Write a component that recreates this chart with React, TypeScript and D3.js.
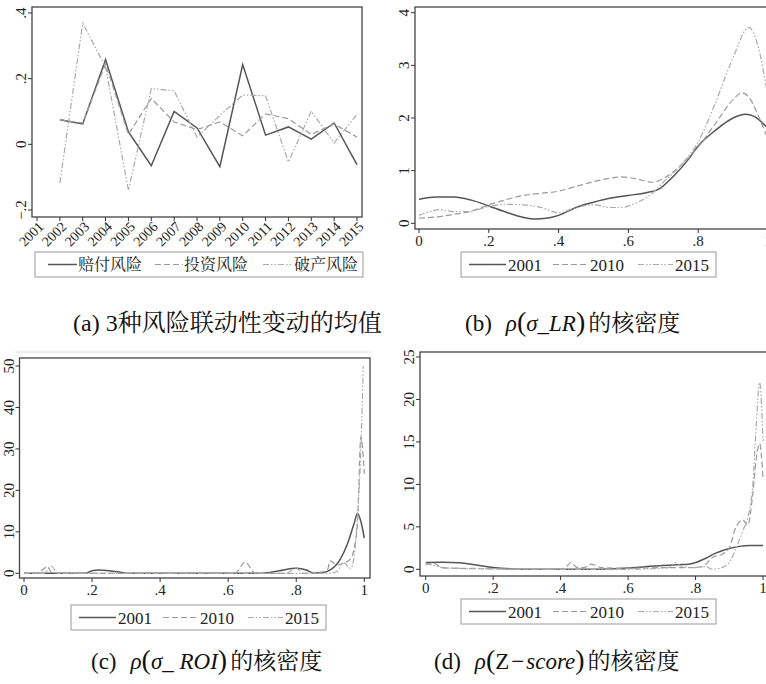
import { useRef, useEffect } from "react"
import * as d3 from "d3"

// panel (a): mean co-movement of the three risks
const years = [2001, 2002, 2003, 2004, 2005, 2006, 2007, 2008, 2009, 2010, 2011, 2012, 2013, 2014, 2015]
const dataYears = [2002, 2003, 2004, 2005, 2006, 2007, 2008, 2009, 2010, 2011, 2012, 2013, 2014, 2015]
const claimRisk = [0.075, 0.062, 0.258, 0.038, -0.065, 0.1, 0.05, -0.068, 0.243, 0.028, 0.053, 0.016, 0.065, -0.062]
const investRisk = [0.075, 0.065, 0.245, 0.03, 0.14, 0.068, 0.045, 0.068, 0.026, 0.093, 0.078, 0.03, 0.062, 0.022]
const bankruptRisk = [-0.118, 0.369, 0.235, -0.14, 0.17, 0.163, 0.022, 0.088, 0.15, 0.148, -0.054, 0.101, 0.004, 0.091]
const riskNames = ["赔付风险", "投资风险", "破产风险"]
const riskTicks = [-0.2, 0, 0.2, 0.4]

// kernel densities, [x, density]
const densityYears = ["2001", "2010", "2015"]
const densityTicksX = [0, 0.2, 0.4, 0.6, 0.8, 1]

const lr2001 = [[0, 0.457], [0.05, 0.5], [0.1, 0.5], [0.15, 0.44], [0.2, 0.33], [0.25, 0.21], [0.3, 0.11], [0.33, 0.08], [0.37, 0.1], [0.4, 0.15], [0.45, 0.3], [0.5, 0.4], [0.55, 0.48], [0.6, 0.53], [0.65, 0.58], [0.69, 0.66], [0.73, 0.9], [0.77, 1.2], [0.8, 1.47], [0.85, 1.77], [0.9, 2.0], [0.935, 2.07], [0.96, 2.03], [1.0, 1.8]]
const lr2010 = [[0, 0.1], [0.05, 0.12], [0.1, 0.17], [0.15, 0.23], [0.2, 0.35], [0.25, 0.45], [0.3, 0.53], [0.35, 0.57], [0.4, 0.61], [0.45, 0.7], [0.5, 0.79], [0.55, 0.86], [0.58, 0.88], [0.62, 0.85], [0.67, 0.78], [0.7, 0.85], [0.75, 1.1], [0.8, 1.45], [0.85, 1.9], [0.9, 2.35], [0.925, 2.48], [0.95, 2.35], [0.975, 2.0], [1.0, 1.6]]
const lr2015 = [[0, 0.15], [0.03, 0.22], [0.06, 0.26], [0.1, 0.22], [0.14, 0.22], [0.2, 0.32], [0.25, 0.36], [0.3, 0.35], [0.35, 0.3], [0.4, 0.2], [0.45, 0.3], [0.5, 0.35], [0.55, 0.3], [0.58, 0.3], [0.62, 0.38], [0.67, 0.58], [0.7, 0.78], [0.75, 1.1], [0.8, 1.55], [0.85, 2.3], [0.9, 3.15], [0.945, 3.72], [0.97, 3.4], [1.0, 2.4]]

const roi2001 = [[0, 0], [0.18, 0], [0.2, 0.6], [0.22, 0.8], [0.25, 0.6], [0.28, 0.3], [0.3, 0], [0.7, 0], [0.75, 0.6], [0.8, 1.2], [0.83, 0.8], [0.85, 0.1], [0.88, 0.2], [0.9, 0.8], [0.93, 3.5], [0.95, 7], [0.97, 12], [0.98, 14.5], [0.99, 12.5], [1.0, 8.5]]
const roi2010 = [[0, 0], [0.04, 0], [0.06, 1.2], [0.07, 1.6], [0.08, 0.3], [0.1, 0], [0.62, 0], [0.65, 2.7], [0.68, 0], [0.77, 0], [0.8, 1.3], [0.82, 0], [0.89, 0.5], [0.9, 3], [0.92, 2.0], [0.94, 2.5], [0.96, 3.5], [0.97, 6], [0.98, 12], [0.99, 33], [1.0, 24]]
const roi2015 = [[0, 0], [0.06, 0], [0.08, 1.7], [0.1, 0], [0.9, 0], [0.92, 0.5], [0.94, 2.5], [0.96, 1.2], [0.97, 4], [0.98, 14], [0.99, 30], [0.997, 50]]

const z2001 = [[0, 0.8], [0.05, 0.82], [0.1, 0.78], [0.15, 0.5], [0.2, 0.2], [0.25, 0.05], [0.3, 0], [0.5, 0], [0.6, 0.15], [0.65, 0.3], [0.7, 0.45], [0.75, 0.55], [0.78, 0.6], [0.8, 0.8], [0.83, 1.3], [0.86, 1.9], [0.9, 2.45], [0.93, 2.7], [0.96, 2.8], [1.0, 2.8]]
const z2010 = [[0, 0.5], [0.02, 0.75], [0.05, 0.2], [0.1, 0.1], [0.2, 0.05], [0.3, 0], [0.41, 0], [0.43, 0.8], [0.45, 0.2], [0.47, 0.2], [0.49, 0.6], [0.52, 0.2], [0.6, 0.1], [0.7, 0.2], [0.78, 0.2], [0.82, 0.3], [0.85, 1.4], [0.88, 1.8], [0.9, 2.5], [0.92, 5], [0.94, 5.8], [0.955, 5.2], [0.97, 9], [0.98, 13], [0.99, 14.8], [1.0, 10.7]]
const z2015 = [[0, 0.7], [0.03, 0.4], [0.06, 0.15], [0.15, 0.1], [0.25, 0.02], [0.35, 0], [0.6, 0], [0.72, 0.2], [0.74, 0.8], [0.76, 0.3], [0.8, 0.2], [0.83, 0.3], [0.85, 0], [0.87, 0.1], [0.9, 0.8], [0.92, 2.5], [0.94, 4.5], [0.96, 7], [0.97, 10], [0.98, 17], [0.99, 22], [1.0, 15]]

const serif = "'Liberation Serif', 'Times New Roman', serif"
const cjk = "'Liberation Serif', 'Noto Serif CJK SC', 'Noto Sans CJK SC', serif"

// solid / dashed / dash-dot-dot, like the Stata defaults
const lineStyles = [
  { stroke: "#555", dash: "none", width: 1.5 },
  { stroke: "#9a9a9a", dash: "6,3", width: 1.2 },
  { stroke: "#aaa", dash: "6,2,1.5,2,1.5,2", width: 1.2 },
]

const fmtTick = (d: number) => (d === 0 ? "0" : d === 1 ? "1" : d3.format(".1f")(d).replace("0.", "."))

function drawLegend(svg: any, box: any, labels: string[], font: string, size: number) {
  const g = svg.append("g")
  g.append("rect")
    .attr("x", box.left)
    .attr("y", box.top)
    .attr("width", box.width)
    .attr("height", box.height)
    .attr("fill", "#fff")
    .attr("stroke", "#999")
  const cy = box.top + box.height / 2
  labels.forEach((label, i) => {
    const s = lineStyles[i]
    g.append("line")
      .attr("x1", box.left + box.samples[i][0])
      .attr("x2", box.left + box.samples[i][1])
      .attr("y1", cy)
      .attr("y2", cy)
      .attr("stroke", s.stroke)
      .attr("stroke-width", s.width)
      .attr("stroke-dasharray", s.dash)
    g.append("text")
      .text(label)
      .attr("x", box.left + box.textX[i])
      .attr("y", cy)
      .attr("dy", "0.36em")
      .style("font-family", font)
      .style("font-size", size + "px")
      .attr("fill", "#222")
  })
}

function drawYTicks(svg: any, y: any, ticks: number[], axisX: number, fmt: (d: number) => string) {
  const g = svg.append("g")
  g.selectAll("line")
    .data(ticks)
    .enter()
    .append("line")
    .attr("x1", axisX - 4)
    .attr("x2", axisX)
    .attr("y1", (d: number) => y(d))
    .attr("y2", (d: number) => y(d))
    .attr("stroke", "#333")
  g.selectAll("text")
    .data(ticks)
    .enter()
    .append("text")
    .text(fmt)
    .attr("transform", (d: number) => `translate(${axisX - 6}, ${y(d)}) rotate(-90)`)
    .attr("text-anchor", "middle")
    .style("font-family", serif)
    .style("font-size", "15px")
    .attr("fill", "#222")
}

function drawXTicks(svg: any, x: any, ticks: number[], axisY: number) {
  const g = svg.append("g")
  g.selectAll("line")
    .data(ticks)
    .enter()
    .append("line")
    .attr("x1", (d: number) => x(d))
    .attr("x2", (d: number) => x(d))
    .attr("y1", axisY)
    .attr("y2", axisY + 4)
    .attr("stroke", "#333")
  g.selectAll("text")
    .data(ticks)
    .enter()
    .append("text")
    .text(fmtTick)
    .attr("x", (d: number) => x(d))
    .attr("y", axisY + 17)
    .attr("text-anchor", "middle")
    .style("font-family", serif)
    .style("font-size", "15px")
    .attr("fill", "#222")
}

function drawDensity(svg: any, p: any) {
  const x = d3.scaleLinear().domain([0, 1]).range(p.xRange)
  const y = d3.scaleLinear().domain([0, p.yMax]).range(p.yRange)

  svg.append("rect")
    .attr("x", p.frame[0])
    .attr("y", p.frame[1])
    .attr("width", p.frame[2] - p.frame[0])
    .attr("height", p.frame[3] - p.frame[1])
    .attr("fill", "none")
    .attr("stroke", "#444")
    .attr("stroke-width", 1.3)

  const line = d3
    .line<number[]>()
    .x((d) => x(d[0]))
    .y((d) => y(d[1]))
    .curve(d3.curveMonotoneX)

  p.series.forEach((s: number[][], i: number) => {
    const st = lineStyles[i]
    svg.append("path")
      .attr("d", line(s))
      .attr("fill", "none")
      .attr("stroke", st.stroke)
      .attr("stroke-width", st.width)
      .attr("stroke-dasharray", st.dash)
  })

  drawYTicks(svg, y, p.yTicks, p.frame[0], (d) => String(d))
  drawXTicks(svg, x, densityTicksX, p.frame[3])
  drawLegend(svg, p.legend, densityYears, serif, 17)
}

function drawCaption(svg: any, x: number, y: number, parts: any[]) {
  const t = svg.append("text").attr("x", x).attr("y", y).attr("fill", "#111")
  parts.forEach((p) => {
    t.append("tspan")
      .text(p.t)
      .style("font-family", p.cjk ? cjk : serif)
      .style("font-size", (p.size || 23) + "px")
      .style("font-style", p.it ? "italic" : "normal")
      .attr("dx", p.dx || 0)
  })
}

export default function App() {
  const svgRef = useRef<SVGSVGElement>(null)

  function drawChart() {
    const svg = d3.select(svgRef.current)
    svg.selectAll("*").remove()

    // (a)
    const xa = d3.scaleLinear().domain([2001, 2015]).range([37, 357])
    const ya = d3.scaleLinear().domain([-0.2, 0.4]).range([210, 13])
    svg.append("rect")
      .attr("x", 32).attr("y", 7).attr("width", 330).attr("height", 210)
      .attr("fill", "none").attr("stroke", "#444").attr("stroke-width", 1.3)

    const riskLine = d3
      .line<number>()
      .x((d, i) => xa(dataYears[i]))
      .y((d) => ya(d))
    ;[claimRisk, investRisk, bankruptRisk].forEach((s, i) => {
      const st = lineStyles[i]
      svg.append("path")
        .attr("d", riskLine(s))
        .attr("fill", "none")
        .attr("stroke", st.stroke)
        .attr("stroke-width", st.width)
        .attr("stroke-dasharray", st.dash)
    })
    drawYTicks(svg, ya, riskTicks, 32, fmtTick)

    const xAxisA = svg.append("g")
    xAxisA.selectAll("line")
      .data(years)
      .enter()
      .append("line")
      .attr("x1", (d) => xa(d))
      .attr("x2", (d) => xa(d))
      .attr("y1", 217)
      .attr("y2", 221)
      .attr("stroke", "#333")
    xAxisA.selectAll("text")
      .data(years)
      .enter()
      .append("text")
      .text((d) => String(d))
      .attr("transform", (d) => `translate(${xa(d) + 4}, 224) rotate(-45)`)
      .attr("text-anchor", "end")
      .attr("dy", "0.35em")
      .style("font-family", serif)
      .style("font-size", "14px")
      .attr("fill", "#222")

    drawLegend(
      svg,
      { left: 35, top: 252, width: 328, height: 25, samples: [[13, 42], [120, 148], [228, 258]], textX: [43, 149, 259] },
      riskNames,
      cjk,
      16
    )

    const densLegend = { samples: [[8, 45], [92, 127], [177, 212]], textX: [47, 129, 214], width: 255, height: 25 }

    // (b)
    drawDensity(svg, {
      xRange: [419, 768],
      yRange: [223.3, 12.7],
      yMax: 4,
      yTicks: [0, 1, 2, 3, 4],
      frame: [415, 7, 800, 229],
      series: [lr2001, lr2010, lr2015],
      legend: { ...densLegend, left: 461, top: 252 },
    })

    // faint scan line above (c)
    svg.append("line")
      .attr("x1", 15).attr("x2", 372).attr("y1", 352).attr("y2", 352)
      .attr("stroke", "#ddd")

    // (c)
    drawDensity(svg, {
      xRange: [24, 364.3],
      yRange: [573.3, 366],
      yMax: 50,
      yTicks: [0, 10, 20, 30, 40, 50],
      frame: [19.5, 358, 370, 578],
      series: [roi2001, roi2010, roi2015],
      legend: { ...densLegend, left: 71, top: 605 },
    })

    // (d)
    drawDensity(svg, {
      xRange: [425.7, 763],
      yRange: [569.3, 357],
      yMax: 25,
      yTicks: [0, 5, 10, 15, 20, 25],
      frame: [420, 352, 800, 576],
      series: [z2001, z2010, z2015],
      legend: { ...densLegend, left: 461, top: 599 },
    })

    // captions
    drawCaption(svg, 73, 331, [
      { t: "(a) 3", size: 24 },
      { t: "种风险联动性变动的均值", cjk: true, size: 24 },
    ])
    drawCaption(svg, 465, 331, [
      { t: "(b)" },
      { t: "ρ", it: true, dx: 14 },
      { t: "(", size: 28 },
      { t: "σ", it: true },
      { t: "_" },
      { t: "LR", it: true },
      { t: ")", size: 28 },
      { t: "的核密度", cjk: true, dx: 3 },
    ])
    drawCaption(svg, 91, 669, [
      { t: "(c)" },
      { t: "ρ", it: true, dx: 14 },
      { t: "(", size: 28 },
      { t: "σ", it: true },
      { t: "_ " },
      { t: "ROI", it: true },
      { t: ")", size: 28 },
      { t: "的核密度", cjk: true, dx: 3 },
    ])
    drawCaption(svg, 434, 669, [
      { t: "(d)" },
      { t: "ρ", it: true, dx: 14 },
      { t: "(", size: 28 },
      { t: "Z" },
      { t: "−", dx: 2 },
      { t: "score", it: true, dx: 2 },
      { t: ")", size: 28 },
      { t: "的核密度", cjk: true, dx: 3 },
    ])
  }

  useEffect(() => {
    drawChart()
  }, [svgRef])

  return (
    <div>
      <svg
        ref={svgRef}
        width={766}
        height={684}
        style={{ position: "absolute", left: 0, top: 0, background: "#fff" }}
      ></svg>
    </div>
  )
}
